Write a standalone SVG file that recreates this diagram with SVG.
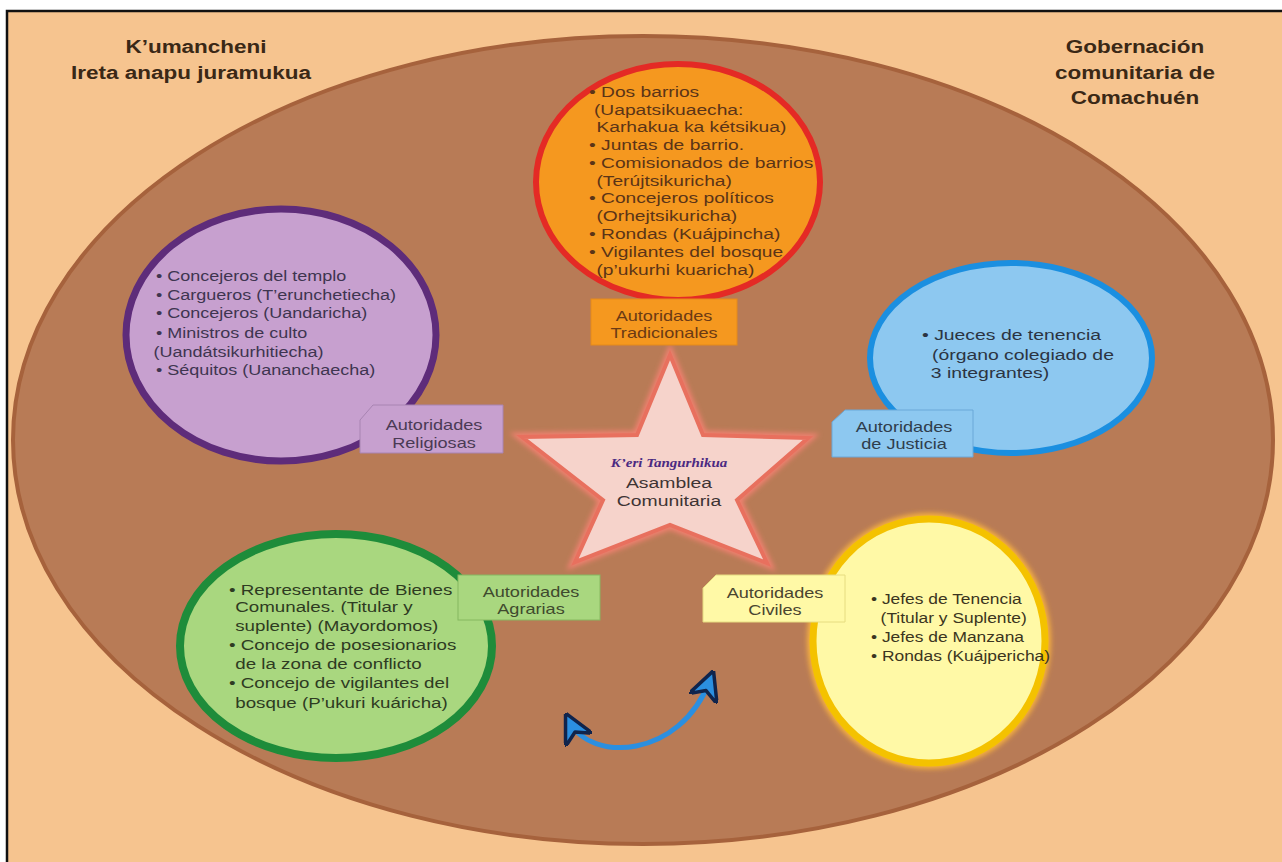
<svg xmlns="http://www.w3.org/2000/svg" width="1282" height="862" viewBox="0 0 1282 862">
  <defs>
    <style>
      .body { font-family: "Liberation Sans", Arial, sans-serif; font-size: 15px; }
      .lbl { font-family: "Liberation Sans", Arial, sans-serif; font-size: 14.5px; text-anchor: middle; }
      .title { font-family: "Liberation Sans", Arial, sans-serif; font-size: 18px; font-weight: bold; fill: #3a2816; text-anchor: middle; }
      .conn { fill: none; stroke: #2b8fe0; stroke-width: 5; stroke-linecap: round; }
    </style>
    <filter id="soft" x="-10%" y="-10%" width="120%" height="120%">
      <feGaussianBlur stdDeviation="2.5"/>
    </filter>
    <marker id="head" viewBox="0 0 12 12" refX="8" refY="6" markerWidth="6" markerHeight="6" orient="auto-start-reverse" markerUnits="strokeWidth">
      <path d="M0,0 L12,6 L0,12 L3.5,6 z" fill="#2b8fe0" stroke="#10244c" stroke-width="1.4" stroke-linejoin="round"/>
    </marker>
  </defs>

  <!-- page and frame -->
  <rect x="0" y="0" width="1282" height="862" fill="#ffffff"/>
  <rect x="7" y="11" width="1280" height="856" fill="#f6c48f" stroke="#111111" stroke-width="2.5"/>

  <!-- outer community ellipse -->
  <ellipse cx="643" cy="440" rx="630" ry="404" fill="#b87b56" stroke="#a6623c" stroke-width="4"/>

  <!-- titles -->
  <g id="title-left" transform="translate(196 0) scale(1.25 1)">
    <text class="title" x="0" y="53">K’umancheni</text>
    <text class="title" x="-4" y="79">Ireta anapu juramukua</text>
  </g>
  <g id="title-right" transform="translate(1135 0) scale(1.25 1)">
    <text class="title" x="0" y="53">Gobernación</text>
    <text class="title" x="0" y="79">comunitaria de</text>
    <text class="title" x="0" y="104">Comachuén</text>
  </g>

  <!-- central assembly -->
  <g id="asamblea">
    <polygon points="670,355 703,435 808,438 737,500 767,563 670,525 575,562 603,500 522,437 637,435" fill="none" stroke="#f08070" stroke-width="9" filter="url(#soft)"/>
    <polygon points="670,355 703,435 808,438 737,500 767,563 670,525 575,562 603,500 522,437 637,435" fill="#f6d3cb" stroke="#e8705e" stroke-width="4" stroke-linejoin="miter"/>
    <g transform="translate(669 0) scale(1.25 1)">
      <text x="0" y="467" text-anchor="middle" font-family="Liberation Serif, 'Times New Roman', serif" font-size="12" font-style="italic" font-weight="bold" fill="#4b2a82">K’eri Tangurhikua</text>
      <text x="0" y="488" text-anchor="middle" font-family="Liberation Sans, Arial, sans-serif" font-size="15.5" fill="#3e3434">Asamblea</text>
      <text x="0" y="506" text-anchor="middle" font-family="Liberation Sans, Arial, sans-serif" font-size="15.5" fill="#3e3434">Comunitaria</text>
    </g>
  </g>

  <!-- traditional authorities -->
  <g id="tradicionales">
    <ellipse cx="678" cy="182" rx="142" ry="118" fill="#f5981f" stroke="#e42a25" stroke-width="6"/>
    <g transform="translate(589 0) scale(1.24 1)" class="body" fill="#5b3417" style="font-size:15.5px">
      <text x="0" y="97">• Dos barrios</text>
      <text x="4" y="115">(Uapatsikuaecha:</text>
      <text x="6" y="132">Karhakua ka kétsikua)</text>
      <text x="0" y="150">• Juntas de barrio.</text>
      <text x="0" y="168">• Comisionados de barrios</text>
      <text x="6" y="186">(Terújtsikuricha)</text>
      <text x="0" y="203">• Concejeros políticos</text>
      <text x="6" y="221">(Orhejtsikuricha)</text>
      <text x="0" y="239">• Rondas (Kuájpincha)</text>
      <text x="0" y="257">• Vigilantes del bosque</text>
      <text x="6" y="275">(p’ukurhi kuaricha)</text>
    </g>
    <rect x="591" y="299" width="146" height="46" fill="#f5981f" stroke="#e58a1a" stroke-width="1"/>
    <g transform="translate(664 0) scale(1.25 1)">
      <text class="lbl" x="0" y="321" fill="#6b3a14">Autoridades</text>
      <text class="lbl" x="0" y="338" fill="#6b3a14">Tradicionales</text>
    </g>
  </g>

  <!-- religious authorities -->
  <g id="religiosas">
    <ellipse cx="281" cy="335" rx="155" ry="126" fill="#c7a0cf" stroke="#5e2c7a" stroke-width="7"/>
    <g transform="translate(156 0) scale(1.2 1)" class="body" fill="#3e3550">
      <text x="0" y="281">• Concejeros del templo</text>
      <text x="0" y="300">• Cargueros (T’erunchetiecha)</text>
      <text x="0" y="318">• Concejeros (Uandaricha)</text>
      <text x="0" y="338">• Ministros de culto</text>
      <text x="-2" y="357">(Uandátsikurhitiecha)</text>
      <text x="0" y="375">• Séquitos (Uananchaecha)</text>
    </g>
    <polygon points="373,405 503,405 503,453 360,453 360,420" fill="#c7a0cf" stroke="#a884b2" stroke-width="1"/>
    <g transform="translate(434 0) scale(1.25 1)">
      <text class="lbl" x="0" y="430" fill="#4a3a55">Autoridades</text>
      <text class="lbl" x="0" y="448" fill="#4a3a55">Religiosas</text>
    </g>
  </g>

  <!-- justice authorities -->
  <g id="justicia">
    <ellipse cx="1011" cy="358" rx="141" ry="95" fill="#8dc8f0" stroke="#1b8fe0" stroke-width="6"/>
    <g transform="translate(922 0) scale(1.25 1)" class="body" fill="#2b3442" style="font-size:15.5px">
      <text x="0" y="340">• Jueces de tenencia</text>
      <text x="8" y="360">(órgano colegiado de</text>
      <text x="7" y="378">3 integrantes)</text>
    </g>
    <polygon points="845,410 973,410 973,457 832,457 832,422" fill="#8dc8f0" stroke="#6aa8d8" stroke-width="1"/>
    <g transform="translate(904 0) scale(1.25 1)">
      <text class="lbl" x="0" y="432" fill="#2f3d4c">Autoridades</text>
      <text class="lbl" x="0" y="449" fill="#2f3d4c">de Justicia</text>
    </g>
  </g>

  <!-- agrarian authorities -->
  <g id="agrarias">
    <ellipse cx="336" cy="646" rx="156" ry="112" fill="#a9d77f" stroke="#1e8c3a" stroke-width="8"/>
    <g transform="translate(229 0) scale(1.25 1)" class="body" fill="#2e3b22">
      <text x="0" y="595">• Representante de Bienes</text>
      <text x="5" y="612">Comunales. (Titular y</text>
      <text x="5" y="631">suplente) (Mayordomos)</text>
      <text x="0" y="650">• Concejo de posesionarios</text>
      <text x="5" y="669">de la zona de conflicto</text>
      <text x="0" y="688">• Concejo de vigilantes del</text>
      <text x="5" y="708">bosque (P’ukuri kuáricha)</text>
    </g>
    <rect x="458" y="575" width="142" height="45" fill="#a9d77f" stroke="#86b860" stroke-width="1"/>
    <g transform="translate(531 0) scale(1.25 1)">
      <text class="lbl" x="0" y="597" fill="#3f4a2e">Autoridades</text>
      <text class="lbl" x="0" y="614" fill="#3f4a2e">Agrarias</text>
    </g>
  </g>

  <!-- civil authorities -->
  <g id="civiles">
    <ellipse cx="929" cy="641" rx="116" ry="122" fill="none" stroke="#f6b040" stroke-width="12" filter="url(#soft)"/>
    <ellipse cx="929" cy="641" rx="116" ry="122" fill="#fff9a6" stroke="#f4c200" stroke-width="7"/>
    <g transform="translate(871 0) scale(1.2 1)" class="body" fill="#3b3520" style="font-size:14.5px">
      <text x="0" y="604">• Jefes de Tenencia</text>
      <text x="8" y="623">(Titular y Suplente)</text>
      <text x="0" y="642">• Jefes de Manzana</text>
      <text x="0" y="661">• Rondas (Kuájpericha)</text>
    </g>
    <polygon points="716,575 845,575 845,622 703,622 703,588" fill="#fff9a6" stroke="#e6dc80" stroke-width="1"/>
    <g transform="translate(775 0) scale(1.25 1)">
      <text class="lbl" x="0" y="598" fill="#4a4530">Autoridades</text>
      <text class="lbl" x="0" y="615" fill="#4a4530">Civiles</text>
    </g>
  </g>

  <!-- connectors -->
  <g id="connectors">
    <path class="conn" d="M570,722 C590,762 680,760 710,680" marker-start="url(#head)" marker-end="url(#head)"/>
  </g>
</svg>
